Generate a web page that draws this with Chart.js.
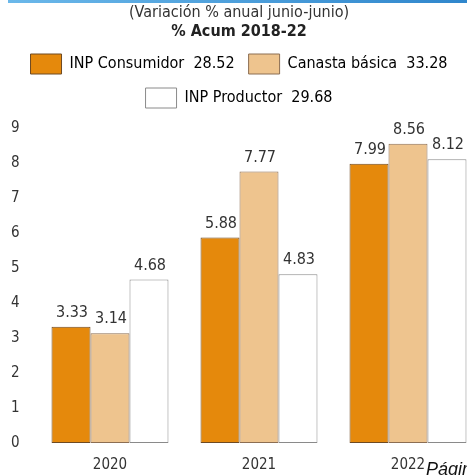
<!DOCTYPE html>
<html>
<head>
<meta charset="utf-8">
<script src="https://cdn.jsdelivr.net/npm/chart.js@4"></script>
<style>
  html, body { margin: 0; padding: 0; background: #fff; overflow: hidden; }
  #wrap { width: 467px; height: 475px; position: relative; }
</style>
</head>
<body>
<div id="wrap"><canvas id="grafica" width="467" height="475"></canvas></div>
<script>
const anios = ["2020", "2021", "2022"];
const series = ["INP Consumidor", "Canasta básica", "INP Productor"];
const acumulado = ["28.52", "33.28", "29.68"];
const inpConsumidor = [3.33, 5.88, 7.99];
const canastaBasica = [3.14, 7.77, 8.56];
const inpProductor = [4.68, 4.83, 8.12];
const ticksY = [0, 1, 2, 3, 4, 5, 6, 7, 8, 9];

const rellenos = ["#e5890c", "#eec48e", "#ffffff"];
const bordes = ["#6e4a22", "#8c6e52", "#8a8a8a"];

Chart.defaults.font.family = '"Liberation Sans Narrow", "DejaVu Sans Condensed", sans-serif';
Chart.defaults.color = "#333";

// franja azul de arriba
const franja = {
  id: "franja",
  beforeDraw(chart) {
    const ctx = chart.ctx;
    const g = ctx.createLinearGradient(8, 0, 467, 0);
    g.addColorStop(0, "#6bb8ea");
    g.addColorStop(1, "#2f86cc");
    ctx.save();
    ctx.fillStyle = g;
    ctx.fillRect(8, 0, 459, 3);
    ctx.restore();
  }
};

// valores sobre las barras y texto de pagina
const etiquetas = {
  id: "etiquetas",
  afterDatasetsDraw(chart) {
    const ctx = chart.ctx;
    ctx.save();
    ctx.font = '16px "Liberation Sans Narrow", "DejaVu Sans Condensed", sans-serif';
    ctx.fillStyle = "#333";
    ctx.textAlign = "center";
    ctx.textBaseline = "bottom";
    chart.data.datasets.forEach((ds, i) => {
      chart.getDatasetMeta(i).data.forEach((bar, j) => {
        ctx.fillText(ds.data[j].toFixed(2), bar.x + 1, bar.y - 6);
      });
    });
    ctx.restore();
  },
  afterDraw(chart) {
    const ctx = chart.ctx;
    ctx.save();
    ctx.font = 'italic 18px "Liberation Sans", sans-serif';
    ctx.fillStyle = "#111";
    ctx.textBaseline = "alphabetic";
    ctx.fillText("Página", 426, 475);
    ctx.restore();
  }
};

new Chart(document.getElementById("grafica"), {
  type: "bar",
  data: {
    labels: anios,
    datasets: [
      { label: series[0], data: inpConsumidor, backgroundColor: rellenos[0], borderColor: bordes[0] },
      { label: series[1], data: canastaBasica, backgroundColor: rellenos[1], borderColor: bordes[1] },
      { label: series[2], data: inpProductor, backgroundColor: rellenos[2], borderColor: bordes[2] },
    ],
  },
  options: {
    responsive: false,
    animation: false,
    datasets: {
      bar: { borderWidth: 1, borderSkipped: false, clip: false, categoryPercentage: 0.785, barPercentage: 1 },
    },
    layout: { padding: { left: 11, top: 0, bottom: 0 } },
    scales: {
      x: {
        offset: false,
        afterFit: (scale) => { scale.height = 32; },
        grid: { display: false, drawTicks: false },
        border: { display: false },
        ticks: { padding: 13, font: { size: 15 } },
      },
      y: {
        min: 0,
        max: 9.3,
        afterBuildTicks: (scale) => { scale.ticks = ticksY.map((v) => ({ value: v })); },
        afterFit: (scale) => { scale.width = 99; },
        grid: { display: false, drawTicks: false },
        border: { display: false },
        ticks: { crossAlign: "far", font: { size: 15 } },
      },
      derecha: {
        position: "right",
        display: true,
        afterFit: (scale) => { scale.width = 59; },
        grid: { display: false, drawTicks: false },
        border: { display: false },
        ticks: { display: false },
      },
    },
    plugins: {
      title: {
        display: true,
        text: "(Variación % anual junio-junio)",
        font: { size: 16, weight: "normal", lineHeight: 1 },
        padding: { top: 5, bottom: 0 },
      },
      subtitle: {
        display: true,
        text: "% Acum 2018-22",
        font: { size: 16, weight: "bold", lineHeight: 1 },
        color: "#222",
        padding: { top: 3, bottom: 0 },
      },
      legend: {
        labels: {
          boxWidth: 31,
          boxHeight: 20,
          padding: 14,
          font: { size: 16 },
          generateLabels: () => series.map((s, i) => ({
            text: s + "  " + acumulado[i],
            fillStyle: rellenos[i],
            strokeStyle: bordes[i],
            lineWidth: 1,
            hidden: false,
            datasetIndex: i,
          })),
        },
      },
      tooltip: { enabled: false },
    },
  },
  plugins: [franja, etiquetas],
});
</script>
</body>
</html>
